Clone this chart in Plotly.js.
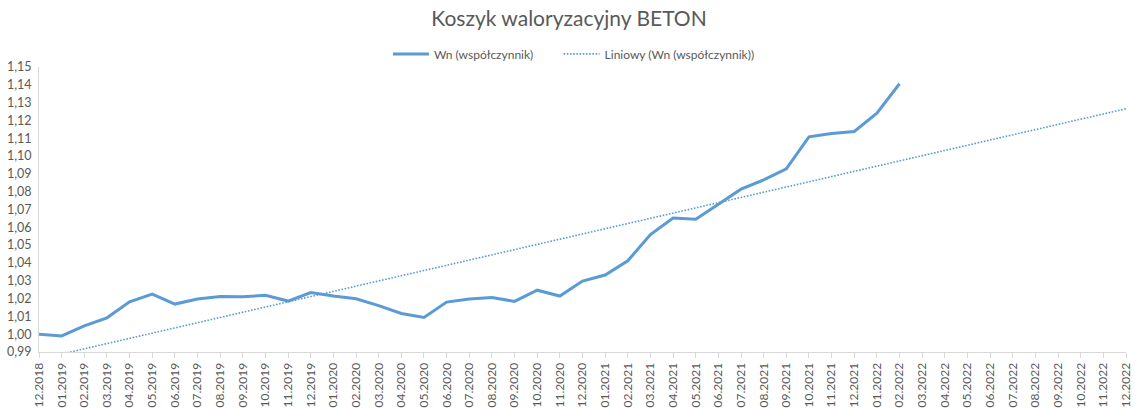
<!DOCTYPE html>
<html>
<head>
<meta charset="utf-8">
<script src="https://cdn.plot.ly/plotly-3.0.1.min.js"></script>
<style>
  html, body { margin: 0; padding: 0; background: #fff; }
  #chart { width: 1138px; height: 408px; }
</style>
</head>
<body>
<div id="chart"></div>
<script>
// months shown on the x axis
const months = [
  "12.2018",
  "01.2019", "02.2019", "03.2019", "04.2019", "05.2019", "06.2019",
  "07.2019", "08.2019", "09.2019", "10.2019", "11.2019", "12.2019",
  "01.2020", "02.2020", "03.2020", "04.2020", "05.2020", "06.2020",
  "07.2020", "08.2020", "09.2020", "10.2020", "11.2020", "12.2020",
  "01.2021", "02.2021", "03.2021", "04.2021", "05.2021", "06.2021",
  "07.2021", "08.2021", "09.2021", "10.2021", "11.2021", "12.2021",
  "01.2022", "02.2022", "03.2022", "04.2022", "05.2022", "06.2022",
  "07.2022", "08.2022", "09.2022", "10.2022", "11.2022", "12.2022"
];

// Wn (współczynnik), 12.2018 - 02.2022
const wn = [
  1.000, 0.999, 1.0047, 1.0092, 1.0182, 1.0225, 1.0169,
  1.0197, 1.0212, 1.021, 1.0218, 1.0186, 1.0234,
  1.0214, 1.0199, 1.016, 1.0116, 1.0094, 1.018,
  1.0197, 1.0206, 1.0184, 1.0247, 1.0214, 1.0298,
  1.0332, 1.0412, 1.0559, 1.0652, 1.0645, 1.073,
  1.0814, 1.0866, 1.0928, 1.1108, 1.1127, 1.1138,
  1.1241, 1.1406
];

const blue = "#5b9bd5";
const grey = "#595959";

// linear trend (least squares), forecast to the end of the axis
const n = wn.length;
let sx = 0, sy = 0, sxy = 0, sxx = 0;
wn.forEach((v, i) => { sx += i; sy += v; sxy += i * v; sxx += i * i; });
const slope = (n * sxy - sx * sy) / (n * sxx - sx * sx);
const icpt = (sy - slope * sx) / n;
const trend = months.map((m, i) => icpt + slope * i);

const traces = [
  {
    x: months.slice(0, n),
    y: wn,
    name: "Wn (współczynnik)",
    type: "scatter",
    mode: "lines",
    line: { color: blue, width: 3 },
    legend: "legend",
  },
  {
    x: months,
    y: trend,
    name: "Liniowy (Wn (współczynnik))",
    type: "scatter",
    mode: "lines",
    line: { color: blue, width: 1.6, dash: "1.6px,1.6px" },
    legend: "legend2",
  },
];

// two legends so the gap between the entries can be set
const legendBase = {
  orientation: "h",
  xref: "paper",
  y: 1.046,
  yanchor: "middle",
  xanchor: "left",
  itemwidth: 36,
  font: { size: 12, color: grey },
};

const layout = {
  width: 1138,
  height: 408,
  margin: { l: 39, r: 12, t: 67, b: 56, autoexpand: false },
  paper_bgcolor: "#fff",
  plot_bgcolor: "#fff",
  separators: ", ",
  font: { family: "Lato, 'Open Sans', sans-serif", size: 12, color: grey },
  title: {
    text: "Koszyk waloryzacyjny BETON",
    font: { size: 21, color: grey },
    x: 0.5,
    xanchor: "center",
    y: 0.955,
    yanchor: "middle",
  },
  showlegend: true,
  legend: Object.assign({}, legendBase, { x: 0.321 }),
  legend2: Object.assign({}, legendBase, { x: 0.478 }),
  xaxis: {
    type: "category",
    categoryorder: "array",
    categoryarray: months,
    range: [0, 48],
    tickangle: -90,
    showgrid: false,
    showline: true,
    linecolor: "#d9d9d9",
    ticks: "outside",
    ticklen: 5,
    tickcolor: "#d9d9d9",
    zeroline: false,
    tickfont: { size: 12, color: grey },
  },
  yaxis: {
    range: [0.99, 1.15],
    dtick: 0.01,
    tick0: 0.99,
    tickformat: ".2f",
    showgrid: false,
    showline: true,
    linecolor: "#d9d9d9",
    zeroline: false,
    ticks: "",
    ticklabelstandoff: 4,
    tickfont: { size: 12.5, color: grey },
  },
};

Plotly.newPlot("chart", traces, layout, { displayModeBar: false, staticPlot: true });
</script>
</body>
</html>
